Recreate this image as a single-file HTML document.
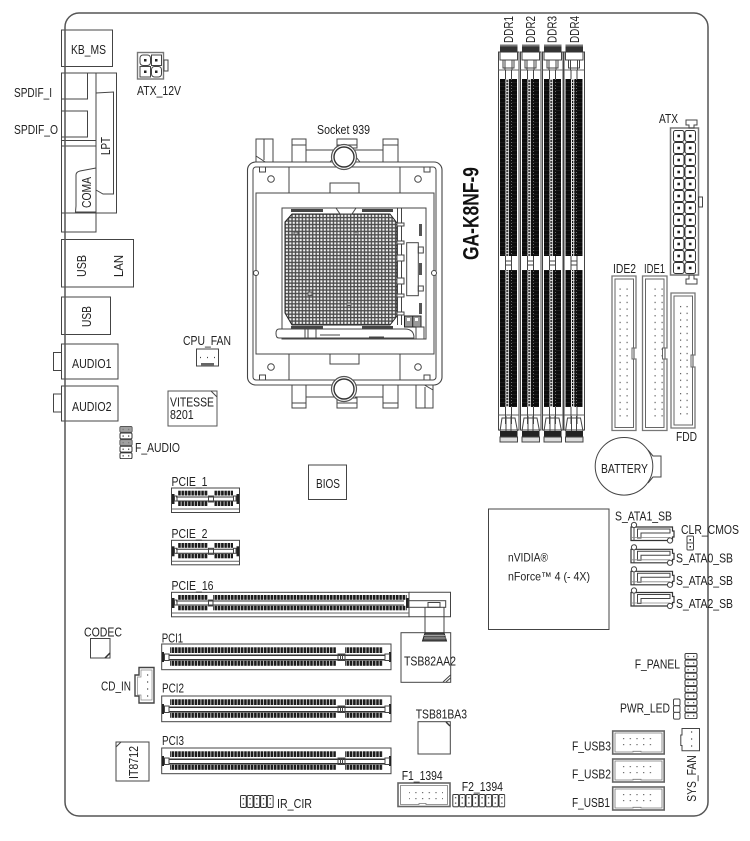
<!DOCTYPE html>
<html lang="en"><head><meta charset="utf-8"><title>GA-K8NF-9 layout</title>
<style>
html,body{margin:0;padding:0;background:#fff}
svg{display:block}
text{font-family:"Liberation Sans",sans-serif;font-size:13px;fill:#222}
.l{fill:none;stroke:#444;stroke-width:1}
.g{fill:none;stroke:#666;stroke-width:1}
.d{fill:#111;stroke:none}
.w{fill:#fff;stroke:#444;stroke-width:1}
</style></head><body>
<svg width="750" height="841" viewBox="0 0 750 841" xmlns="http://www.w3.org/2000/svg">
<defs>
<pattern id="teeth" width="3.3" height="10" patternUnits="userSpaceOnUse"><rect width="3.3" height="10" fill="#fff"/><rect width="2.6" height="10" fill="#1c1c1c"/></pattern>
<pattern id="pins" x="285" y="214" width="3.45" height="3.45" patternUnits="userSpaceOnUse"><rect width="3.45" height="3.45" fill="#4a4a4a"/><rect x=".8" y=".8" width="2.1" height="2.1" fill="#f4f4f4"/></pattern>
<pattern id="dimmc" width="6" height="3" patternUnits="userSpaceOnUse"><rect width="6" height="3" fill="#111"/><rect x="1.5" width=".9" height="3" fill="#fff"/><rect x="3.8" width=".9" height="3" fill="#fff"/><rect x="1" y="1" width="4" height=".9" fill="#ddd"/></pattern>
<pattern id="dimmh" width="20" height="4" patternUnits="userSpaceOnUse"><rect width="20" height="4" fill="#0c0c0c"/><rect y="2" width="20" height=".4" fill="#333"/></pattern>
<pattern id="atx" x="673" y="130" width="11.5" height="12" patternUnits="userSpaceOnUse"><rect x=".5" y=".5" width="10.5" height="11" rx="2" fill="#fff" stroke="#333" stroke-width="1"/><rect x="4.4" y="4.7" width="2.6" height="2.6" fill="#222"/></pattern>
<pattern id="ide" x="618.5" y="287.5" width="7" height="6.67" patternUnits="userSpaceOnUse"><rect x="1" y="1" width="1.2" height="1.2" fill="#555"/></pattern>
<pattern id="fdd" x="679" y="305" width="6.5" height="6.7" patternUnits="userSpaceOnUse"><rect x="1" y="1" width="1.2" height="1.2" fill="#555"/></pattern>
<pattern id="usb" x="622" y="737" width="6.7" height="6" patternUnits="userSpaceOnUse"><rect x="1" y="1" width="1.2" height="1.2" fill="#666"/></pattern>
<pattern id="hdrA" x="119.5" y="426" width="13" height="6.6" patternUnits="userSpaceOnUse"><rect x=".5" y=".5" width="12" height="5.8" rx="1.2" fill="#fff" stroke="#333"/><rect x="3" y="2.8" width="1.3" height="1.3" fill="#444"/><rect x="8.5" y="2.8" width="1.3" height="1.3" fill="#444"/></pattern>
<pattern id="hdrP" x="684.5" y="653" width="13" height="6.6" patternUnits="userSpaceOnUse"><rect x=".5" y=".5" width="12" height="5.8" rx="1.2" fill="#fff" stroke="#333"/><rect x="3" y="2.8" width="1.3" height="1.3" fill="#444"/><rect x="8.5" y="2.8" width="1.3" height="1.3" fill="#444"/></pattern>
<pattern id="hdrH" x="452.3" y="794" width="6.6" height="13.3" patternUnits="userSpaceOnUse"><rect x=".5" y=".5" width="5.8" height="12.3" rx="1.2" fill="#fff" stroke="#333"/><rect x="2.7" y="3" width="1.3" height="1.3" fill="#444"/><rect x="2.7" y="8.5" width="1.3" height="1.3" fill="#444"/></pattern>
<pattern id="hdrI" x="240" y="795" width="6.72" height="13" patternUnits="userSpaceOnUse"><rect x=".5" y=".5" width="5.8" height="12" rx="1.2" fill="#fff" stroke="#333"/><rect x="2.7" y="3" width="1.3" height="1.3" fill="#444"/><rect x="2.7" y="8.5" width="1.3" height="1.3" fill="#444"/></pattern>

<g id="dimm">
<rect x="498.5" y="52" width="20.5" height="378" class="l"/>
<rect x="500" y="79" width="17" height="177" fill="url(#dimmh)"/>
<rect x="500" y="270" width="17" height="137" fill="url(#dimmh)"/>
<rect x="505.5" y="79" width="6" height="177" fill="url(#dimmc)"/>
<rect x="505.5" y="270" width="6" height="137" fill="url(#dimmc)"/>
<path d="M498.5 70H519M498.5 415H519" class="g"/>
<path d="M505.5 70V79M511.5 70V79M505.5 256V270M511.5 256V270M505.5 407V424M511.5 407V424M505.5 261H511.5M505.5 265H511.5" class="l"/>
<rect x="500" y="44.5" width="17.5" height="8" fill="#333"/>
<rect x="500" y="44.5" width="17.5" height="2" fill="#777"/>
<path d="M500 52V60H503V68H514V60H517.5V52" class="l" fill="#fff"/>
<path d="M503 60H514M505 60V70M512 60V70" class="l"/>
<rect x="500" y="431" width="17.5" height="6" fill="#222"/>
<rect x="500" y="437" width="17.5" height="5" fill="#ddd" stroke="#444"/>
<path d="M500 431L502 418H515L517.5 431" class="l" fill="#fff"/>
<path d="M506 416V431M511 416V431" class="l"/>
</g>

<g id="pcie1">
<rect x="171.5" y="488" width="68" height="24.5" class="l"/>
<path d="M171.5 509H239.5" class="g"/>
<rect x="178" y="490.7" width="30" height="4.8" fill="url(#teeth)"/>
<rect x="214" y="490.7" width="19" height="4.8" fill="url(#teeth)"/>
<rect x="178" y="501.5" width="30" height="4.5" fill="url(#teeth)"/>
<rect x="214" y="501.5" width="19" height="4.5" fill="url(#teeth)"/>
<path d="M176 497H234M176 501H234" stroke="#333" stroke-width="1"/>
<rect x="172" y="494" width="2.5" height="10" fill="#222"/>
<rect x="236.5" y="494" width="2.5" height="10" fill="#222"/>
<rect x="174.5" y="496" width="2.5" height="5" class="l"/>
<rect x="233.5" y="496" width="2.5" height="5" class="l"/>
<rect x="208.5" y="496" width="5" height="6" class="l"/>
</g>

<g id="pci">
<rect x="161.7" y="644" width="229.3" height="25.7" class="l"/>
<rect x="170" y="647.3" width="166" height="5.7" fill="url(#teeth)"/>
<rect x="345" y="647.3" width="37.5" height="5.7" fill="url(#teeth)"/>
<rect x="170" y="660.8" width="166" height="5" fill="url(#teeth)"/>
<rect x="345" y="660.8" width="37.5" height="5" fill="url(#teeth)"/>
<rect x="169" y="654.5" width="216" height="1.5" fill="#333"/>
<rect x="169" y="659" width="216" height="1.5" fill="#333"/>
<rect x="162" y="652" width="2" height="10" fill="#222"/>
<rect x="389" y="652" width="2" height="10" fill="#222"/>
<rect x="164.5" y="654" width="4.5" height="6.5" class="l" fill="#fff"/>
<rect x="385" y="654" width="4.5" height="6.5" class="l" fill="#fff"/>
<rect x="338" y="654" width="7" height="6.5" class="l" fill="#fff"/>
<path d="M340.5 654V660.5M342.5 654V660.5" class="l"/>
</g>

<g id="sata">
<path d="M631 527H672.5V531L674 531V537H672.5V540.5H631Z" fill="#fff" stroke="#333" stroke-width="1.2"/>
<path d="M634 527V540.5M637.5 529H670V533H641V538H637.5Z" fill="none" stroke="#444" stroke-width="1"/>
<path d="M632 537.5H670" stroke="#888" stroke-width=".8"/>
<circle cx="634" cy="525" r="2.6" fill="#fff" stroke="#444"/>
<circle cx="670" cy="540.5" r="2.6" fill="#fff" stroke="#444"/>
</g>

<g id="fusb">
<rect x="612.7" y="731" width="51.5" height="23" fill="none" stroke="#666" stroke-width="1.6"/>
<path d="M615 733H662V752H641V751.3H633V752H615Z" fill="#fff" stroke="#777" stroke-width=".8"/>
<rect x="622" y="737" width="34" height="12" fill="url(#usb)"/>
</g>
</defs>

<rect width="750" height="841" fill="#fff"/>

<!-- DIMMs -->
<use href="#dimm"/><use href="#dimm" x="22"/><use href="#dimm" x="44"/><use href="#dimm" x="65.5"/>

<!-- Rear IO -->
<rect x="61.5" y="30" width="51" height="36.5" class="l"/>
<rect x="61.5" y="73" width="55" height="140" class="l"/>
<path d="M61.5 99H87.5V73M61.5 111H87.5V137H61.5M61.5 140.5H96M96 73V232" class="l"/>
<rect x="61.5" y="146" width="34.5" height="86" class="l"/>
<path d="M96 93L113.5 92V194L103 194L96 190" class="l"/>
<path d="M96 168L80 171Q76 172 76 175V206L75.5 212H96" class="l"/>
<rect x="61.5" y="239.5" width="72" height="47.5" class="l"/>
<rect x="61.5" y="297" width="49" height="37.5" class="l"/>
<rect x="61.5" y="344" width="56.5" height="35" class="l"/>
<rect x="53.5" y="352.5" width="8" height="18" class="l"/>
<rect x="61.5" y="386" width="56.5" height="35" class="l"/>
<rect x="53.5" y="394" width="8" height="18" class="l"/>

<!-- ATX 12V -->
<rect x="137.5" y="52.5" width="26" height="26.5" fill="#fff" stroke="#777" stroke-width="1.4"/>
<rect x="164" y="60" width="4" height="11" class="l"/>
<rect x="140" y="55" width="10.5" height="10.5" rx="3" class="w"/><rect x="151.5" y="55" width="10" height="10.5" class="w"/>
<rect x="140" y="66.5" width="10.5" height="10.5" class="w"/><rect x="151.5" y="66.5" width="10" height="10.5" rx="3" class="w"/>
<rect x="144" y="59" width="2.5" height="2.5" fill="#222"/><rect x="155" y="59" width="2.5" height="2.5" fill="#222"/>
<rect x="144" y="70.5" width="2.5" height="2.5" fill="#222"/><rect x="155" y="70.5" width="2.5" height="2.5" fill="#222"/>

<!-- Socket -->
<g>
<path d="M256 139H273V167H256Z" class="w"/><path d="M264 139V160M256 156L273 167" class="l"/>
<path d="M292 139H306V162H292Z" class="w"/><path d="M292 145H306" class="l"/>
<path d="M337 139H357V148H337Z" class="w"/><path d="M337 145H357" class="l"/>
<path d="M383 139H398V162H383Z" class="w"/><path d="M383 145H398" class="l"/>
<path d="M306 150H335M355 150H383M306 162V150M383 162V150M330 162L338 152M360 162L352 152" class="l"/>
<path d="M292 385H306V408H292Z" class="w"/><path d="M292 403H306" class="l"/>
<path d="M337 398H357V408H337Z" class="w"/><path d="M337 403H357" class="l"/>
<path d="M383 385H398V408H383Z" class="w"/><path d="M383 403H398" class="l"/>
<path d="M416 380H433V408H416Z" class="w"/><path d="M425 387V408M416 380L433 390" class="l"/>
<path d="M306 397H335M355 397H383" class="l"/>
<rect x="247.5" y="162" width="194.5" height="223" rx="8" fill="#fff" stroke="#444" stroke-width="1.1"/>
<rect x="253" y="167" width="183" height="213" rx="3" class="l"/>
<rect x="256" y="193" width="178" height="161" class="l"/>
<path d="M289 167V193M400 167V193M289 354V380M400 354V380" class="l"/>
<rect x="330" y="183" width="29" height="10" class="l"/>
<rect x="330" y="354" width="29" height="10" class="l"/>
<rect x="259.5" y="167" width="6" height="5" class="l"/><rect x="424" y="167" width="6" height="5" class="l"/>
<rect x="259.5" y="375" width="6" height="5" class="l"/><rect x="424" y="375" width="6" height="5" class="l"/>
<circle cx="271" cy="179" r="3.3" class="l"/><circle cx="418" cy="179" r="3.3" class="l"/>
<circle cx="271" cy="367" r="3.3" class="l"/><circle cx="418" cy="367" r="3.3" class="l"/>
<circle cx="256" cy="273" r="2.5" class="w"/><circle cx="434" cy="273" r="2.5" class="w"/>
<circle cx="344" cy="157" r="12.5" fill="#fff" stroke="#555" stroke-width="1.2"/><circle cx="344" cy="157" r="10" fill="#fff" stroke="#333" stroke-width="1.4"/>
<circle cx="344" cy="389" r="12.5" fill="#fff" stroke="#555" stroke-width="1.2"/><circle cx="344" cy="389" r="10" fill="#fff" stroke="#333" stroke-width="1.4"/>
<rect x="282" y="208" width="144" height="131" class="l"/>
<polygon points="292,214 390,214 397,223 397,316 390,325 292,325 285,313 285,222" fill="url(#pins)" stroke="#222"/>
<rect x="291" y="209" width="32" height="3" fill="#444"/><rect x="362" y="209" width="31" height="3" fill="#444"/>
<rect x="291" y="326" width="32" height="3" fill="#444"/><rect x="362" y="326" width="31" height="3" fill="#444"/>
<path d="M336 208L340 214H352L356 208" class="l"/>
<path d="M397.5 208V325M401.5 208V325" class="l"/>
<g fill="#fff" stroke="#444"><rect x="397" y="223" width="7" height="3"/><rect x="397" y="241" width="7" height="3"/><rect x="397" y="255" width="7" height="6"/><rect x="397" y="278" width="7" height="6"/><rect x="397" y="294" width="7" height="3"/><rect x="397" y="312" width="7" height="3"/></g>
<rect x="406.7" y="242.7" width="11.6" height="53" class="l"/>
<rect x="418.3" y="247" width="5" height="6" class="l"/><rect x="418.3" y="286" width="5" height="5" class="l"/>
<rect x="419" y="224" width="3" height="12" fill="#555"/><rect x="419" y="263" width="3" height="12" fill="#555"/><rect x="419" y="303" width="3" height="11" fill="#555"/>
<rect x="404.5" y="316" width="16.5" height="11" fill="#999" stroke="#222"/>
<path d="M412.7 316V327" stroke="#222"/>
<rect x="407" y="318" width="3" height="3" fill="#fff"/><rect x="415" y="318" width="3" height="3" fill="#fff"/>
<g fill="#bbb" stroke="#555"><rect x="294" y="232" width="4" height="2.5"/><rect x="354" y="232" width="4" height="2.5"/><rect x="308" y="292" width="4" height="3.5"/><rect x="347" y="303" width="4" height="2.5"/></g>
<path d="M279 329H405Q414 329 414 338H279Q276 338 276 333.5Q276 329 279 329Z" fill="#fff" stroke="#444"/>
<path d="M305 329V338M308 329V338M316 329V338M320 335H340M369 337H384" class="l"/>
<rect x="416" y="327" width="8" height="12" class="l"/>
</g>

<!-- ATX -->
<rect x="670.5" y="128" width="28" height="147" fill="#fff" stroke="#777" stroke-width="1.5"/>
<rect x="673" y="130" width="23" height="144" fill="url(#atx)"/>
<path d="M686 120H697V125H694V128H689V125H686Z" class="l"/>
<path d="M686 284H697V279H694V275H689V279H686Z" class="l"/>
<rect x="698.5" y="197" width="4" height="10" class="l"/>

<!-- IDE / FDD -->
<path d="M612 276H636V348H634V359H636V430.5H612Z" fill="#fff" stroke="#777" stroke-width="1.3"/>
<path d="M615 279H633.5V348H632V359H633.5V427.5H615Z" fill="none" stroke="#666" stroke-width="1"/>
<rect x="618.5" y="287.5" width="14" height="133.4" fill="url(#ide)"/>
<path d="M642.5 276H667V348H665V359H667V430.5H642.5Z" fill="#fff" stroke="#777" stroke-width="1.3"/>
<path d="M645.5 279H664V348H662.5V359H664V427.5H645.5Z" fill="none" stroke="#666" stroke-width="1"/>
<rect x="649.5" y="287.5" width="14" height="133.4" fill="url(#ide)"/>
<path d="M671 293H695V355H693V367H695V428H671Z" fill="#fff" stroke="#777" stroke-width="1.3"/>
<path d="M674 296H692.5V355H691V367H692.5V425H674Z" fill="none" stroke="#666" stroke-width="1"/>
<rect x="679" y="305" width="13" height="114" fill="url(#fdd)"/>

<!-- Battery -->
<path d="M648 450L653 456H661V477H653L648 483" class="l"/>
<circle cx="624" cy="466.3" r="28.8" fill="#fff" stroke="#444" stroke-width="1"/>

<!-- Small chips -->
<rect x="196.5" y="349" width="22" height="17" class="l"/>
<rect x="201" y="363" width="13" height="3" fill="#666"/>
<path d="M200 357.5h1M207 357.5h1M214 357.5h1" stroke="#444" stroke-width="1.2"/>
<path d="M168 391H217V426H168Z" fill="none" stroke="#555"/>
<path d="M211 391L217 397" class="l"/>
<g>
<rect x="119.5" y="426" width="13" height="33" fill="url(#hdrA)"/>
<rect x="120" y="426.5" width="12" height="5.8" rx="1.2" fill="#888" opacity=".8"/>
<rect x="120" y="439.7" width="12" height="5.8" rx="1.2" fill="#888" opacity=".8"/>
</g>
<rect x="308.5" y="465" width="38" height="34.5" class="l"/>

<!-- PCIe -->
<use href="#pcie1"/>
<use href="#pcie1" y="52.3"/>
<rect x="171.5" y="592.3" width="237.5" height="24.5" class="l"/>
<path d="M171.5 613H409" class="g"/>
<rect x="178" y="595" width="30" height="4.8" fill="url(#teeth)"/>
<rect x="213" y="595" width="193.7" height="4.8" fill="url(#teeth)"/>
<rect x="178" y="605.8" width="30" height="4.5" fill="url(#teeth)"/>
<rect x="213" y="605.8" width="193.7" height="4.5" fill="url(#teeth)"/>
<path d="M176 601H404M176 605H404" stroke="#333" stroke-width="1"/>
<rect x="172" y="598" width="2.5" height="10" fill="#222"/>
<rect x="406" y="598" width="2.5" height="10" fill="#222"/>
<rect x="174.5" y="600" width="2.5" height="5" class="l"/>
<rect x="208.5" y="600" width="4.5" height="6" class="l"/>
<path d="M409 592.3H450.5V616.8H409" class="l"/>
<rect x="409" y="600.7" width="36.7" height="6.6" class="l"/>
<rect x="428" y="602.5" width="12" height="4.8" class="l"/>
<path d="M425 607.3V633M444 607.3V633" class="l"/>
<!-- TSB82AA2 -->
<rect x="401" y="632.7" width="49.7" height="49.6" class="l"/>
<path d="M443 682L450.5 675M446 682L450.5 678" class="l"/>
<path d="M425 633H444L446.5 641H422.5Z" fill="#555" stroke="#222"/>
<path d="M424 635.5H445M424 638H446" stroke="#bbb" stroke-width=".7"/>

<!-- PCI -->
<use href="#pci"/><use href="#pci" y="52"/><use href="#pci" y="104"/>

<!-- Codec etc -->
<rect x="90.5" y="638.5" width="19.5" height="19.5" class="l"/>
<path d="M105 658L110 653" stroke="#333" stroke-width="1.5"/>
<path d="M139 667.5H154V703H139V696H135V675H139Z" fill="#fff" stroke="#444" stroke-width="1.4"/>
<path d="M141 670H152V700H141V695H137.5V677H141Z" fill="none" stroke="#888" stroke-width=".7"/>
<path d="M147 675h1.2M147 682h1.2M147 689h1.2M147 696h1.2" stroke="#444" stroke-width="1.2"/>
<rect x="116" y="742" width="33" height="39" class="l"/>
<path d="M116 747L121 742" class="l"/>
<rect x="240" y="795" width="33.6" height="13" fill="url(#hdrI)"/>

<!-- TSB81BA3 -->
<rect x="418" y="721.7" width="32.3" height="32.3" class="l"/>
<path d="M446 722L450 726" stroke="#333" stroke-width="1.4"/>

<!-- F1 F2 -->
<rect x="398" y="783" width="52" height="23.5" fill="none" stroke="#666" stroke-width="1.6"/>
<path d="M400.5 785.5H447.5V804.5H426V803.5H419V804.5H400.5Z" fill="#fff" stroke="#777" stroke-width=".8"/>
<rect x="409" y="790" width="34" height="12" fill="url(#usb)"/>
<rect x="452.3" y="794" width="52.8" height="13.3" fill="url(#hdrH)"/>

<!-- nVIDIA -->
<rect x="488.5" y="509" width="120.5" height="120.5" class="l"/>

<!-- SATA -->
<use href="#sata"/><use href="#sata" y="22.3"/><use href="#sata" y="44.3"/><use href="#sata" y="65.5"/>
<rect x="687" y="536" width="6.5" height="7" rx="1" class="w"/><rect x="687" y="543" width="6.5" height="7" rx="1" class="w"/>
<rect x="689.5" y="539" width="1.5" height="1.5" fill="#222"/><rect x="689.5" y="546" width="1.5" height="1.5" fill="#222"/>

<!-- Headers right -->
<rect x="684.5" y="653" width="13" height="66" fill="url(#hdrP)"/>
<rect x="673.5" y="699" width="6.5" height="6.7" rx="1.3" class="w"/><rect x="673.5" y="705.7" width="6.5" height="6.7" rx="1.3" class="w"/><rect x="673.5" y="712.4" width="6.5" height="6.7" rx="1.3" class="w"/>
<use href="#fusb"/><use href="#fusb" y="28"/><use href="#fusb" y="56"/>
<path d="M682 728.5H699.5V750.7H682V745.5H680.8V735H682Z" fill="#fff" stroke="#444" stroke-width="1"/>
<path d="M691 732h1.2M691 739h1.2M691 746h1.2" stroke="#444" stroke-width="1.2"/>

<!-- Board outline -->
<rect x="65" y="13" width="643" height="803" rx="14" fill="none" stroke="#555" stroke-width="1.5"/>

<!-- Labels -->
<g>
<text x="71" y="54" textLength="35" lengthAdjust="spacingAndGlyphs">KB_MS</text>
<text x="14" y="97" textLength="38" lengthAdjust="spacingAndGlyphs">SPDIF_I</text>
<text x="14" y="134" textLength="44" lengthAdjust="spacingAndGlyphs">SPDIF_O</text>
<text x="137" y="95" textLength="44" lengthAdjust="spacingAndGlyphs">ATX_12V</text>
<text x="317" y="134" textLength="53" lengthAdjust="spacingAndGlyphs">Socket 939</text>
<text transform="translate(110,155) rotate(-90)" textLength="18" lengthAdjust="spacingAndGlyphs">LPT</text>
<text transform="translate(91,208) rotate(-90)" textLength="31" lengthAdjust="spacingAndGlyphs">COMA</text>
<text transform="translate(86,277) rotate(-90)" textLength="22" lengthAdjust="spacingAndGlyphs">USB</text>
<text transform="translate(123,277) rotate(-90)" textLength="22" lengthAdjust="spacingAndGlyphs">LAN</text>
<text transform="translate(91,327) rotate(-90)" textLength="21" lengthAdjust="spacingAndGlyphs">USB</text>
<text x="72" y="368" textLength="39.5" lengthAdjust="spacingAndGlyphs">AUDIO1</text>
<text x="72" y="411" textLength="39.5" lengthAdjust="spacingAndGlyphs">AUDIO2</text>
<text x="183" y="345" textLength="48" lengthAdjust="spacingAndGlyphs">CPU_FAN</text>
<text x="170" y="406.7" textLength="44" lengthAdjust="spacingAndGlyphs">VITESSE</text>
<text x="170" y="419" textLength="23.7" lengthAdjust="spacingAndGlyphs">8201</text>
<text x="135" y="452" textLength="45" lengthAdjust="spacingAndGlyphs">F_AUDIO</text>
<text x="316" y="488" textLength="24" lengthAdjust="spacingAndGlyphs">BIOS</text>
<text x="171.5" y="486" textLength="36" lengthAdjust="spacingAndGlyphs">PCIE_1</text>
<text x="171.5" y="538" textLength="36" lengthAdjust="spacingAndGlyphs">PCIE_2</text>
<text x="171.5" y="590" textLength="42" lengthAdjust="spacingAndGlyphs">PCIE_16</text>
<text x="84" y="636.7" textLength="38" lengthAdjust="spacingAndGlyphs">CODEC</text>
<text x="161.7" y="642.7" textLength="21.5" lengthAdjust="spacingAndGlyphs">PCI1</text>
<text x="162" y="692.7" textLength="22" lengthAdjust="spacingAndGlyphs">PCI2</text>
<text x="162" y="745" textLength="22" lengthAdjust="spacingAndGlyphs">PCI3</text>
<text x="101" y="690.7" textLength="30" lengthAdjust="spacingAndGlyphs">CD_IN</text>
<text transform="translate(138,779) rotate(-90)" textLength="33" lengthAdjust="spacingAndGlyphs">IT8712</text>
<text x="277" y="808" textLength="35" lengthAdjust="spacingAndGlyphs">IR_CIR</text>
<text x="404" y="665.7" textLength="52" lengthAdjust="spacingAndGlyphs">TSB82AA2</text>
<text x="415.7" y="718.3" textLength="51.3" lengthAdjust="spacingAndGlyphs">TSB81BA3</text>
<text x="401.7" y="780" textLength="41" lengthAdjust="spacingAndGlyphs">F1_1394</text>
<text x="461.7" y="791" textLength="41.3" lengthAdjust="spacingAndGlyphs">F2_1394</text>
<text transform="translate(513,43) rotate(-90)" textLength="27" lengthAdjust="spacingAndGlyphs">DDR1</text>
<text transform="translate(535,43) rotate(-90)" textLength="27" lengthAdjust="spacingAndGlyphs">DDR2</text>
<text transform="translate(556.5,43) rotate(-90)" textLength="27" lengthAdjust="spacingAndGlyphs">DDR3</text>
<text transform="translate(579,43) rotate(-90)" textLength="27" lengthAdjust="spacingAndGlyphs">DDR4</text>
<text x="659" y="123" textLength="19" lengthAdjust="spacingAndGlyphs">ATX</text>
<text x="613" y="273" textLength="23" lengthAdjust="spacingAndGlyphs">IDE2</text>
<text x="644" y="273" textLength="21" lengthAdjust="spacingAndGlyphs">IDE1</text>
<text x="676" y="441" textLength="21" lengthAdjust="spacingAndGlyphs">FDD</text>
<text x="601" y="473" textLength="47" lengthAdjust="spacingAndGlyphs">BATTERY</text>
<text x="615" y="520.7" textLength="57" lengthAdjust="spacingAndGlyphs">S_ATA1_SB</text>
<text x="681" y="534" textLength="58" lengthAdjust="spacingAndGlyphs">CLR_CMOS</text>
<text x="676" y="562.7" textLength="57" lengthAdjust="spacingAndGlyphs">S_ATA0_SB</text>
<text x="676" y="585" textLength="57" lengthAdjust="spacingAndGlyphs">S_ATA3_SB</text>
<text x="676" y="608" textLength="57" lengthAdjust="spacingAndGlyphs">S_ATA2_SB</text>
<text x="508" y="561.7" textLength="40" lengthAdjust="spacingAndGlyphs" style="font-size:12px">nVIDIA®</text>
<text x="508" y="580.7" textLength="82" lengthAdjust="spacingAndGlyphs" style="font-size:12px">nForce™ 4 (- 4X)</text>
<text x="634.7" y="668.7" textLength="45.3" lengthAdjust="spacingAndGlyphs">F_PANEL</text>
<text x="620" y="712.7" textLength="50" lengthAdjust="spacingAndGlyphs">PWR_LED</text>
<text x="572" y="750.7" textLength="39" lengthAdjust="spacingAndGlyphs">F_USB3</text>
<text x="572" y="778.7" textLength="39" lengthAdjust="spacingAndGlyphs">F_USB2</text>
<text x="572" y="807" textLength="38" lengthAdjust="spacingAndGlyphs">F_USB1</text>
<text transform="translate(696,801.7) rotate(-90)" textLength="46.4" lengthAdjust="spacingAndGlyphs">SYS_FAN</text>
<text transform="translate(478.5,260) rotate(-90)" textLength="93" lengthAdjust="spacingAndGlyphs" style="font-size:22px;font-weight:bold;fill:#111">GA-K8NF-9</text>
</g>
</svg>
</body></html>
